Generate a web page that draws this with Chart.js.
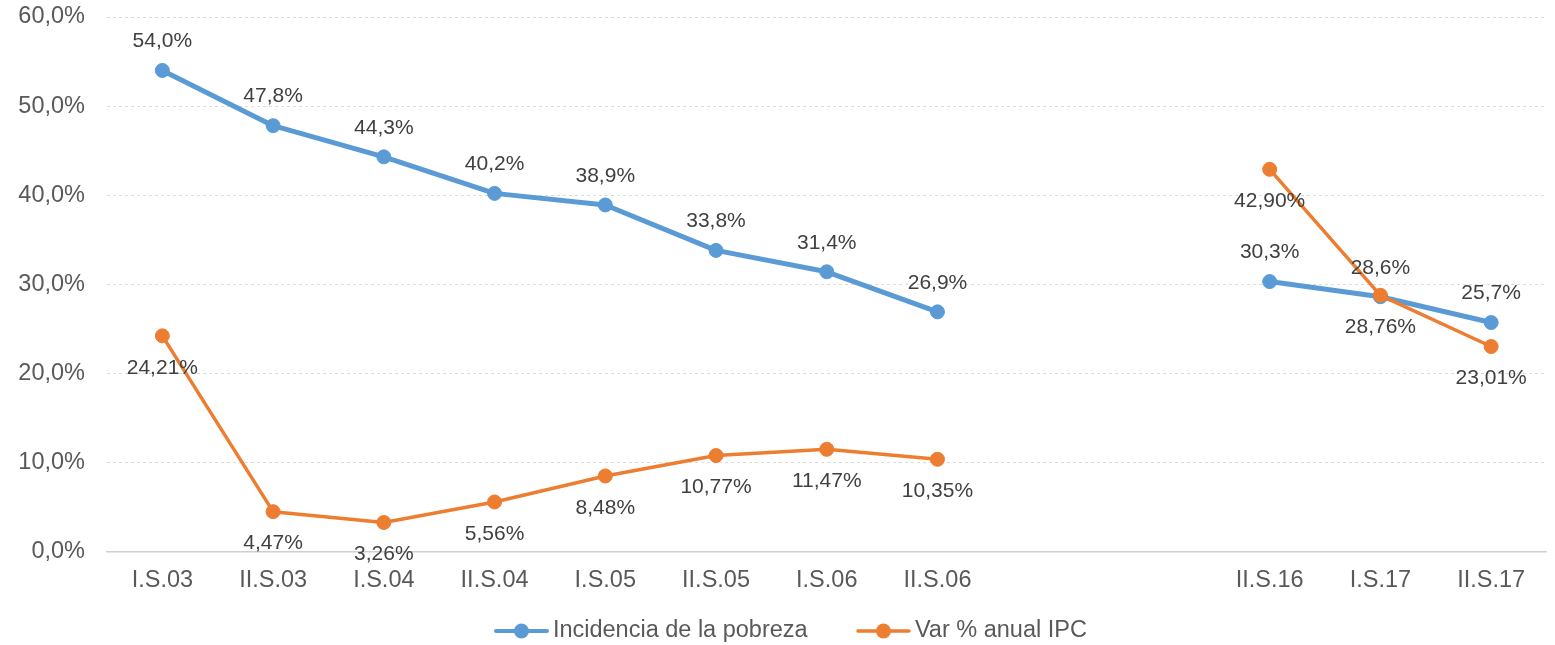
<!DOCTYPE html>
<html lang="es">
<head>
<meta charset="utf-8">
<title>Incidencia de la pobreza y Var % anual IPC</title>
<script src="https://cdn.jsdelivr.net/npm/chart.js@4.4.1/dist/chart.umd.min.js"></script>
<style>
    html, body { margin: 0; padding: 0; background: #ffffff; }
    #wrap { width: 1555px; height: 645px; }
</style>
</head>
<body>
<div id="wrap"><canvas id="grafico" width="1555" height="645"></canvas></div>
<script>
const categorias = ["I.S.03", "II.S.03", "I.S.04", "II.S.04", "I.S.05", "II.S.05", "I.S.06", "II.S.06", "", "", "II.S.16", "I.S.17", "II.S.17"];
const pobreza = [54.0, 47.8, 44.3, 40.2, 38.9, 33.8, 31.4, 26.9, null, null, 30.3, 28.6, 25.7];
const ipc = [24.21, 4.47, 3.26, 5.56, 8.48, 10.77, 11.47, 10.35, null, null, 42.90, 28.76, 23.01];
const ticksY = [0, 10, 20, 30, 40, 50, 60];
const decimales = [1, 2];

const fuente = "'Liberation Sans', Arial, sans-serif";
const azul = "#5B9BD5";
const naranja = "#ED7D31";

function coma(v, dec) {
    return v.toFixed(dec).replace(".", ",") + "%";
}

// legend symbol: line with a dot, drawn in the right part of a wider image
function simbolo(color, grosor) {
    let c = document.createElement("canvas");
    c.width = 97;
    c.height = 18;
    let ctx = c.getContext("2d");
    ctx.strokeStyle = color;
    ctx.lineWidth = grosor;
    ctx.lineCap = "round";
    ctx.beginPath();
    ctx.moveTo(44, 9);
    ctx.lineTo(95, 9);
    ctx.stroke();
    ctx.fillStyle = color;
    ctx.beginPath();
    ctx.arc(69.5, 9, 7.5, 0, Math.PI * 2);
    ctx.fill();
    return c;
}
const simbolos = [simbolo(azul, 4), simbolo(naranja, 3.5)];

const etiquetas = {
    id: "etiquetas",
    afterDatasetsDraw(chart) {
        let ctx = chart.ctx;
        ctx.save();
        ctx.font = "21px " + fuente;
        ctx.fillStyle = "#404040";
        ctx.textAlign = "center";
        ctx.textBaseline = "middle";
        chart.data.datasets.forEach((ds, i) => {
            let meta = chart.getDatasetMeta(i);
            meta.data.forEach((pt, j) => {
                let v = ds.data[j];
                if (v === null) return;
                let dy = i === 0 ? -29 : 32;
                ctx.fillText(coma(v, decimales[i]), pt.x, pt.y + dy);
            });
        });
        ctx.restore();
    }
};

new Chart(document.getElementById("grafico"), {
    type: "line",
    data: {
        labels: categorias,
        datasets: [
            {
                label: "Incidencia de la pobreza",
                data: pobreza,
                order: 2,
                borderColor: azul,
                backgroundColor: azul,
                borderWidth: 5,
                borderCapStyle: "round",
                borderJoinStyle: "round",
                pointRadius: 7,
                pointBorderWidth: 1,
                pointBackgroundColor: azul,
                pointBorderColor: azul,
                tension: 0,
                spanGaps: false
            },
            {
                label: "Var % anual IPC",
                data: ipc,
                order: 1,
                borderColor: naranja,
                backgroundColor: naranja,
                borderWidth: 3.5,
                borderCapStyle: "round",
                borderJoinStyle: "round",
                pointRadius: 7,
                pointBorderWidth: 1,
                pointBackgroundColor: naranja,
                pointBorderColor: naranja,
                tension: 0,
                spanGaps: false
            }
        ]
    },
    options: {
        responsive: false,
        animation: false,
        events: [],
        layout: { padding: { top: 17, right: 8.5, bottom: 0, left: 0 } },
        scales: {
            x: {
                offset: true,
                grid: { display: false },
                border: { display: true, color: "#d0d0d0", width: 1.5 },
                ticks: {
                    color: "#595959",
                    padding: 7,
                    maxRotation: 0,
                    autoSkip: false,
                    font: { family: fuente, size: 23.5 }
                },
                afterFit: function (scale) { scale.height = 53.75; }
            },
            y: {
                min: ticksY[0],
                max: ticksY[ticksY.length - 1],
                grid: { color: "#dcdcdc", lineWidth: 1, drawTicks: false },
                border: { display: false, dash: [3, 3] },
                ticks: {
                    stepSize: ticksY[1] - ticksY[0],
                    color: "#595959",
                    padding: 22,
                    font: { family: fuente, size: 23.5 },
                    callback: function (v) { return coma(v, 1); }
                },
                afterFit: function (scale) {
                    scale.width = 107;
                    scale.paddingTop = 14;
                    scale.paddingBottom = 14;
                }
            }
        },
        plugins: {
            tooltip: { enabled: false },
            legend: {
                position: "bottom",
                maxHeight: 39.75,
                labels: {
                    usePointStyle: true,
                    pointStyleWidth: 81.5,
                    padding: 14,
                    color: "#595959",
                    font: { family: fuente, size: 23.5 },
                    generateLabels: function (c) {
                        let items = Chart.defaults.plugins.legend.labels.generateLabels(c);
                        items.forEach(it => { it.pointStyle = simbolos[it.datasetIndex]; });
                        return items.sort((a, b) => a.datasetIndex - b.datasetIndex);
                    }
                }
            }
        }
    },
    plugins: [etiquetas]
});
</script>
</body>
</html>
